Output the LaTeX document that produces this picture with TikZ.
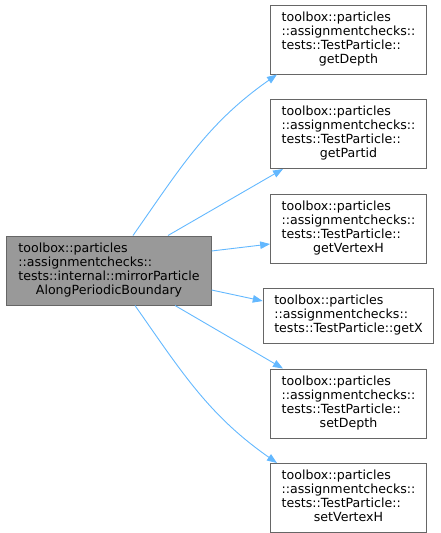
\documentclass[tikz,border=0pt]{standalone}
\usepackage{fontspec}
\setmainfont{DejaVu Sans}
\usetikzlibrary{arrows.meta, positioning}
\definecolor{callblue}{HTML}{63B8FF}
\definecolor{boxgray}{HTML}{999999}
\definecolor{linegray}{HTML}{666666}

\begin{document}
\begin{tikzpicture}[
    x=1pt, y=-1pt,
    fn/.style={
        rectangle,
        draw=linegray,
        fill=white,
        line width=1pt,
        inner xsep=11pt,
        inner ysep=6.5pt,
        font=\fontsize{12.6}{14}\selectfont
    },
    current/.style={
        fn,
        fill=boxgray,
        inner xsep=11.5pt
    },
    call/.style={
        -{Triangle[length=10pt, width=7.5pt]},
        draw=callblue,
        line width=0.9pt
    }
]
    \useasboundingbox (0,0) rectangle (441,533);

    \node (mirror) [current] at (109,270.5) {
        \begin{tabular}{@{}l@{}}toolbox::particles\\::assignmentchecks::\\tests::internal::mirrorParticle\\\multicolumn{1}{@{}c@{}}{AlongPeriodicBoundary}\end{tabular}
    };

    \node (depth) [fn] at (348.5,39.5) {
        \begin{tabular}{@{}l@{}}toolbox::particles\\::assignmentchecks::\\tests::TestParticle::\\\multicolumn{1}{@{}c@{}}{getDepth}\end{tabular}
    };

    \node (partid) [fn, below=24.5pt of depth] {
        \begin{tabular}{@{}l@{}}toolbox::particles\\::assignmentchecks::\\tests::TestParticle::\\\multicolumn{1}{@{}c@{}}{getPartid}\end{tabular}
    };

    \node (vertexh) [fn, below=24.5pt of partid] {
        \begin{tabular}{@{}l@{}}toolbox::particles\\::assignmentchecks::\\tests::TestParticle::\\\multicolumn{1}{@{}c@{}}{getVertexH}\end{tabular}
    };

    \node (getx) [fn, below=24.5pt of vertexh] {
        \begin{tabular}{@{}l@{}}toolbox::particles\\::assignmentchecks::\\tests::TestParticle::getX\end{tabular}
    };

    \node (setdepth) [fn, below=24.5pt of getx] {
        \begin{tabular}{@{}l@{}}toolbox::particles\\::assignmentchecks::\\tests::TestParticle::\\\multicolumn{1}{@{}c@{}}{setDepth}\end{tabular}
    };

    \node (setvertexh) [fn, below=24.5pt of setdepth] {
        \begin{tabular}{@{}l@{}}toolbox::particles\\::assignmentchecks::\\tests::TestParticle::\\\multicolumn{1}{@{}c@{}}{setVertexH}\end{tabular}
    };

    \draw [call] ([xshift=24pt]mirror.north) to[out=55, in=215] ([xshift=-71.5pt]depth.south);
    \draw [call] ([xshift=59pt]mirror.north) -- ([xshift=-65.5pt]partid.south);
    \draw [call] ([yshift=19.5pt]mirror.east) -- ([yshift=-15.5pt]vertexh.west);
    \draw [call] ([yshift=-19.5pt]mirror.east) -- ([yshift=15pt]getx.west);
    \draw [call] ([xshift=66pt]mirror.south) -- ([xshift=-65.5pt]setdepth.north);
    \draw [call] ([xshift=26pt]mirror.south) to[out=-55, in=145] ([xshift=-71.5pt]setvertexh.north);

\end{tikzpicture}
\end{document}
